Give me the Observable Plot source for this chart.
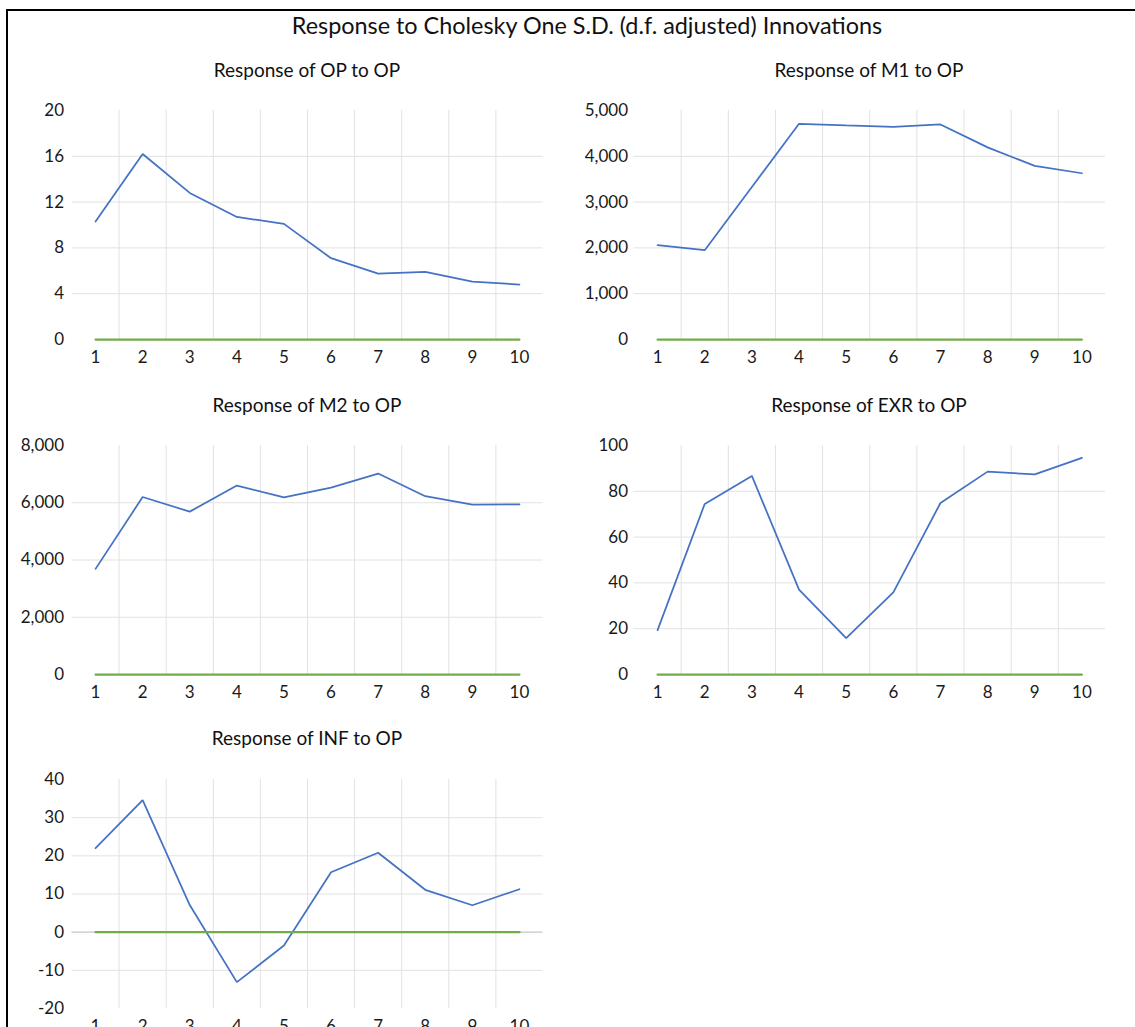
<!DOCTYPE html>
<html><head><meta charset="utf-8">
<script src="https://cdn.jsdelivr.net/npm/d3@7"></script>
<script src="https://cdn.jsdelivr.net/npm/@observablehq/plot@0.6"></script>
<style>
body{margin:0;background:#fff;}
#page{position:relative;width:1135px;height:1027px;overflow:hidden;font-family:Lato,sans-serif;color:#000;background:#fff;}
#frame{position:absolute;left:6px;top:9px;width:1200px;height:1100px;border-left:2px solid #000;border-top:2px solid #000;}
.title{position:absolute;white-space:nowrap;line-height:1;transform:translateX(-50%);color:#111;}
.panel{position:absolute;}
</style></head><body><div id="page"><div id="frame"></div></div>
<script>
const mainTitle = "Response to Cholesky One S.D. (d.f. adjusted) Innovations";
const periods = [1, 2, 3, 4, 5, 6, 7, 8, 9, 10];
const zeroLine = [0, 0, 0, 0, 0, 0, 0, 0, 0, 0];

const opTitle = "Response of OP to OP";
const opResp = [10.3, 16.2, 12.8, 10.7, 10.1, 7.1, 5.75, 5.9, 5.05, 4.8];
const opTicks = [0, 4, 8, 12, 16, 20];

const m1Title = "Response of M1 to OP";
const m1Resp = [2060, 1950, 3330, 4710, 4675, 4645, 4695, 4195, 3790, 3630];
const m1Ticks = [0, 1000, 2000, 3000, 4000, 5000];

const m2Title = "Response of M2 to OP";
const m2Resp = [3690, 6200, 5690, 6600, 6190, 6530, 7020, 6230, 5935, 5945];
const m2Ticks = [0, 2000, 4000, 6000, 8000];

const exrTitle = "Response of EXR to OP";
const exrResp = [19.4, 74.5, 86.7, 37.1, 15.9, 35.9, 74.9, 88.6, 87.4, 94.6];
const exrTicks = [0, 20, 40, 60, 80, 100];

const infTitle = "Response of INF to OP";
const infResp = [22.0, 34.6, 7.1, -13.1, -3.5, 15.7, 20.8, 11.1, 7.05, 11.25];
const infTicks = [-20, -10, 0, 10, 20, 30, 40];

const page = document.getElementById("page");

function addTitle(text, cx, baseline, size) {
  const d = document.createElement("div");
  d.className = "title";
  d.textContent = text;
  d.style.fontSize = size + "px";
  d.style.left = cx + "px";
  d.style.top = (baseline - 0.887 * size) + "px";
  page.appendChild(d);
}

addTitle(mainTitle, 587, 35, 23.4);

function panel(cfg) {
  const rows = periods.map((x, i) => ({x, y: cfg.values[i], z: zeroLine[i]}));
  const bounds = periods.slice(0, -1).map(d => d + 0.5);
  const inner = cfg.ticks.slice(1, -1);
  const chart = Plot.plot({
    width: 575, height: 289,
    marginTop: 20, marginBottom: 40, marginLeft: cfg.ml, marginRight: cfg.mr,
    x: {domain: [0.5, 10.5]},
    y: {domain: [cfg.ticks[0], cfg.ticks[cfg.ticks.length - 1]]},
    style: {fontFamily: "Lato", fontSize: "17px", color: "#1a1a1a", background: "transparent", overflow: "visible"},
    marks: [
      Plot.ruleX(bounds, {stroke: "#e2e2e2", strokeWidth: 1}),
      Plot.ruleY(inner.filter(d => d !== 0), {stroke: "#e2e2e2", strokeWidth: 1}),
      Plot.ruleY(inner.filter(d => d === 0), {stroke: "#c6c6c6", strokeWidth: 1.25}),
      Plot.line(rows, {x: "x", y: "y", stroke: "#4472C4", strokeWidth: 1.75, strokeLinejoin: "miter"}),
      Plot.line(rows, {x: "x", y: "z", stroke: "#70AD47", strokeWidth: 2.25}),
      Plot.axisX(periods, {tickSize: 0, tickPadding: 11, label: null, tickFormat: d => String(d)}),
      Plot.axisY(cfg.ticks, {tickSize: 0, tickPadding: cfg.pad, label: null, tickFormat: d => d.toLocaleString("en-US")})
    ]
  });
  chart.classList.add("panel");
  chart.style.left = cfg.left + "px";
  chart.style.top = cfg.top + "px";
  page.appendChild(chart);
  addTitle(cfg.title, cfg.tx, cfg.tb, 19);
}

panel({title: opTitle, values: opResp, ticks: opTicks, left: 0, top: 90, ml: 71.5, mr: 32.5, pad: 8, tx: 307, tb: 77});
panel({title: m1Title, values: m1Resp, ticks: m1Ticks, left: 560, top: 90, ml: 73.5, mr: 30, pad: 6, tx: 869, tb: 77});
panel({title: m2Title, values: m2Resp, ticks: m2Ticks, left: 0, top: 425, ml: 71.5, mr: 32.5, pad: 8, tx: 307, tb: 412});
panel({title: exrTitle, values: exrResp, ticks: exrTicks, left: 560, top: 425, ml: 73.5, mr: 30, pad: 6, tx: 869, tb: 412});
panel({title: infTitle, values: infResp, ticks: infTicks, left: 0, top: 759, ml: 71.5, mr: 32.5, pad: 8, tx: 307, tb: 745});
</script></body></html>
